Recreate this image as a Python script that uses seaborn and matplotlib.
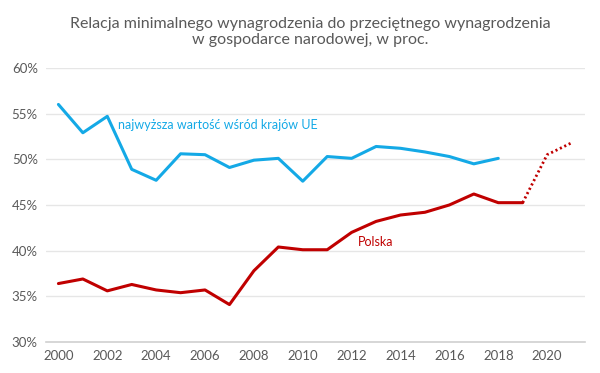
import pandas as pd
import numpy as np
import matplotlib.pyplot as plt
import seaborn as sns
from matplotlib.ticker import FuncFormatter

sns.set_theme(style="white")
plt.rcParams['font.family'] = ['Lato', 'DejaVu Sans']

# dane
lata = list(range(2000, 2019))
ue_max = [56.0, 52.9, 54.7, 48.9, 47.7, 50.6, 50.5, 49.1, 49.9, 50.1,
          47.6, 50.3, 50.1, 51.4, 51.2, 50.8, 50.3, 49.5, 50.1]
lata_pl = list(range(2000, 2020))
polska = [36.4, 36.9, 35.6, 36.3, 35.7, 35.4, 35.7, 34.1, 37.8, 40.4,
          40.1, 40.1, 42.0, 43.2, 43.9, 44.2, 45.0, 46.2, 45.25, 45.25]
lata_prog = [2019, 2020, 2021]
polska_prog = [45.25, 50.5, 51.8]

niebieski = '#14A9E6'
czerwony = '#C00000'

fig = plt.figure(figsize=(6, 3.73), dpi=100)
ax = fig.add_axes([0.077, 0.083, 0.898, 0.735])

sns.lineplot(x=lata, y=ue_max, color=niebieski, linewidth=2.2, ax=ax)
sns.lineplot(x=lata_pl, y=polska, color=czerwony, linewidth=2.2, ax=ax)
sns.lineplot(x=lata_prog, y=polska_prog, color=czerwony, linewidth=2.0,
             linestyle=(0, (0.75, 1.0)), ax=ax)

ax.set_xlim(1999.5, 2021.55)
ax.set_ylim(30, 60)
ax.set_xticks(range(2000, 2021, 2))
ax.set_yticks(range(30, 61, 5))
ax.yaxis.set_major_formatter(FuncFormatter(lambda v, p: f'{v:.0f}%'))
ax.tick_params(axis='both', labelsize=9.5, colors='#595959', length=0, pad=6)
ax.grid(axis='y', color='#E6E6E6', linewidth=1)
for s in ['left', 'right', 'top']:
    ax.spines[s].set_visible(False)
ax.spines['bottom'].set_color('#D0D0D0')
ax.spines['bottom'].set_linewidth(1.2)

ax.text(2002.45, 53.7, 'najwyższa wartość wśród krajów UE', color=niebieski,
        fontsize=9, va='center')
ax.text(2012.25, 40.9, 'Polska', color=czerwony, fontsize=9, va='center')

fig.text(0.517, 0.915, 'Relacja minimalnego wynagrodzenia do przeciętnego wynagrodzenia\nw gospodarce narodowej, w proc.',
         ha='center', va='center', fontsize=11.5, color='#595959', linespacing=1.15)

fig.savefig('out.png', dpi=100)
